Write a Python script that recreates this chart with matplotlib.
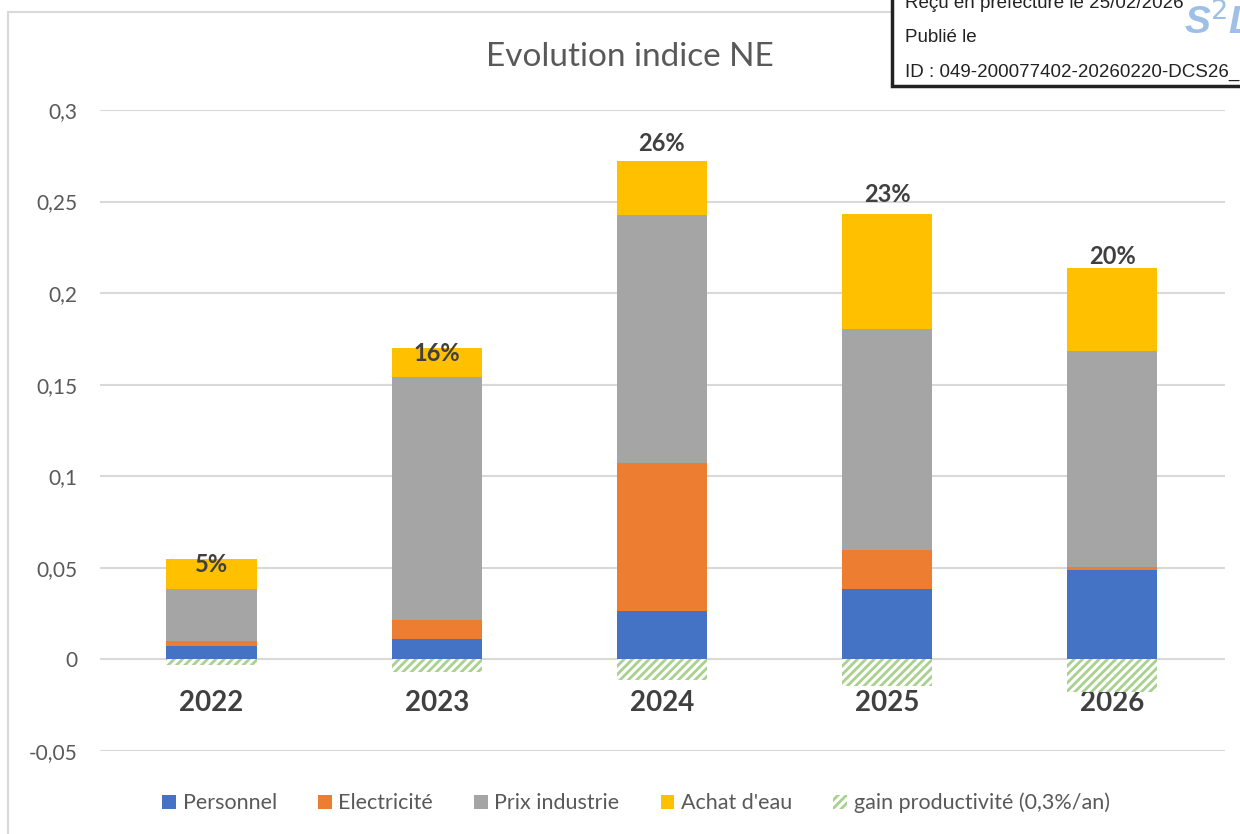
import matplotlib
matplotlib.use("Agg")
import matplotlib.pyplot as plt
from matplotlib.patches import Rectangle
import numpy as np

years = ["2022", "2023", "2024", "2025", "2026"]
personnel = [0.0076, 0.0109, 0.0267, 0.0387, 0.0486]
electricite = [0.0027, 0.0104, 0.0808, 0.0208, 0.0016]
prix_industrie = [0.0283, 0.1331, 0.1353, 0.1211, 0.1184]
achat_eau = [0.0164, 0.0158, 0.0294, 0.0627, 0.0453]
gain_productivite = [-0.0033, -0.0071, -0.0115, -0.0147, -0.0180]
pct_labels = ["5%", "16%", "26%", "23%", "20%"]
pct_label_y = [0.052, 0.167, 0.2815, 0.2537, 0.2199]
y_ticks = [-0.05, 0, 0.05, 0.1, 0.15, 0.2, 0.25, 0.3]

plt.rcParams['font.family'] = ['Lato', 'DejaVu Sans']
plt.rcParams['hatch.linewidth'] = 2.0

fig = plt.figure(figsize=(12.4, 8.34), dpi=100)
ax = fig.add_axes([100/1240, 83/834, 1125/1240, 641/834])

# chart border
fig.patches.append(Rectangle((8/1240, -0.01), 1.1, (834-12)/834 + 0.01, transform=fig.transFigure,
                             facecolor='none', edgecolor='#D9D9D9', lw=1.5, zorder=0))

x = np.arange(len(years))
w = 0.4
series = [("Personnel", personnel, '#4472C4'),
          ("Electricité", electricite, '#ED7D31'),
          ("Prix industrie", prix_industrie, '#A5A5A5'),
          ("Achat d'eau", achat_eau, '#FFC000')]
bottom = np.zeros(len(years))
for name, vals, col in series:
    ax.bar(x, vals, w, bottom=bottom, color=col, label=name, zorder=3)
    bottom = bottom + np.array(vals)
ax.bar(x, gain_productivite, w, color='white', edgecolor='#A9D18E', hatch='////',
       linewidth=0, label="gain productivité (0,3%/an)", zorder=3)

for xi, lab, yy in zip(x, pct_labels, pct_label_y):
    ax.text(xi, yy, lab, ha='center', va='center', fontsize=17, fontweight='bold',
            color='#404040', zorder=5)

ax.set_xlim(-0.495, 4.5)
ax.set_ylim(-0.05, 0.3)
ax.set_yticks(y_ticks)
ax.set_yticklabels([("%g" % t).replace('.', ',') for t in y_ticks])
ax.tick_params(axis='y', length=0, pad=16, labelsize=15, labelcolor='#595959')
ax.grid(axis='y', color='#D9D9D9', lw=1.5, zorder=0)
ax.set_axisbelow(True)
for s in ax.spines.values():
    s.set_visible(False)
ax.spines['bottom'].set_position(('data', 0))
ax.set_xticks(x)
ax.set_xticklabels(years)
ax.tick_params(axis='x', length=0, pad=22, labelsize=20, labelcolor='#404040')
for t in ax.get_xticklabels():
    t.set_fontweight('bold')

fig.text(630/1240, 1 - 57/834, "Evolution indice NE", ha='center', va='center',
         fontsize=24, color='#595959')

leg = fig.legend(loc='center', bbox_to_anchor=(636/1240, 31/834), ncol=5, frameon=False,
                 fontsize=15.5, handlelength=0.65, handleheight=0.65, handletextpad=0.3,
                 columnspacing=1.9)
for t in leg.get_texts():
    t.set_color('#595959')

# stamp box
fig.patches.append(Rectangle((892/1240, 1 - 86/834), 0.5, 0.2, transform=fig.transFigure,
                             facecolor='white', edgecolor='#222222', lw=2.5, zorder=10))
sf = ['Liberation Sans', 'DejaVu Sans']
fig.text(905/1240, 1 - 4/834, "Reçu en préfecture le 25/02/2026", fontsize=13.5,
         family=sf, color='#222222', va='center', zorder=11)
fig.text(905/1240, 1 - 37/834, "Publié le", fontsize=13.5, family=sf, color='#222222',
         va='center', zorder=11)
fig.text(905/1240, 1 - 72/834, "ID : 049-200077402-20260220-DCS26_0", fontsize=13.5,
         family=sf, color='#222222', va='center', zorder=11)
fig.text(1184/1240, 1 - 22/834, r"S$^2$L", fontsize=28, family=sf, fontweight='bold',
         style='italic', color='#8DB4E2', va='center', alpha=0.85, zorder=12)

fig.savefig("out.png", dpi=100)
